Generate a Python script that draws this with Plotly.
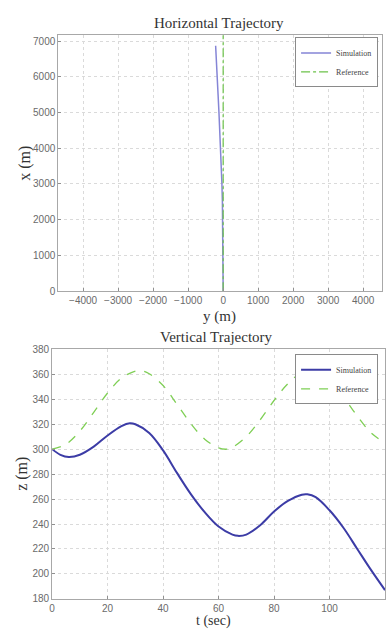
import plotly.graph_objects as go

# ---- Horizontal trajectory data ----
h_sim_x = [0, 500, 1000, 1500, 2000, 2500, 3000, 3500, 4000, 4500, 5000, 5500, 6000, 6500, 6870]
h_sim_y = [0, -1, -3, -6, -12, -22, -35, -52, -75, -96, -120, -145, -170, -195, -215]
h_ref_x = [0, 7200]
h_ref_y = [0, 0]

# ---- Vertical trajectory data ----
t_ref = [0, 5, 10, 15, 20, 25, 30, 32, 35, 40, 45, 50, 55, 60, 63, 65, 70, 75, 80, 85, 90, 93, 95, 100, 105, 110, 115, 120]
z_ref = [300, 304, 314.5, 329.5, 345, 357, 362.5, 363, 360.5, 351, 336, 320.5, 308, 301, 300, 301.5, 310, 323.5, 339, 352.5, 361.5, 363, 362.5, 355, 342, 326.5, 313, 305]
t_sim = [0, 3, 6, 10, 15, 20, 25, 28, 30, 35, 40, 45, 50, 55, 60, 65, 67, 70, 75, 80, 85, 90, 92, 95, 100, 105, 110, 115, 120]
z_sim = [300, 295.5, 293.7, 295.5, 302, 311, 318.5, 320.8, 320, 313, 299, 281, 264, 249.5, 238, 231.5, 230.5, 231.5, 239, 250, 258.5, 263.5, 263.8, 261.5, 251, 237, 220, 203, 187]

h_xticks = [-4000, -3000, -2000, -1000, 0, 1000, 2000, 3000, 4000]
h_yticks = [0, 1000, 2000, 3000, 4000, 5000, 6000, 7000]
v_xticks = [0, 20, 40, 60, 80, 100, 120]
v_yticks = [180, 200, 220, 240, 260, 280, 300, 320, 340, 360, 380]

W, H = 387, 634
fig = go.Figure()

fig.add_trace(go.Scatter(x=h_sim_y, y=h_sim_x, mode="lines", name="Simulation",
                         line=dict(color="#8585d6", width=1.5), xaxis="x", yaxis="y", legend="legend"))
fig.add_trace(go.Scatter(x=h_ref_y, y=h_ref_x, mode="lines", name="Reference",
                         line=dict(color="#6cc24a", width=1.2, dash="dashdot"), xaxis="x", yaxis="y", legend="legend"))
fig.add_trace(go.Scatter(x=t_sim, y=z_sim, mode="lines", name="Simulation", line_shape="spline",
                         line=dict(color="#3c3ca6", width=2), xaxis="x2", yaxis="y2", legend="legend2"))
fig.add_trace(go.Scatter(x=t_ref, y=z_ref, mode="lines", name="Reference", line_shape="spline",
                         line=dict(color="#7fcf55", width=1.3, dash="dash"), xaxis="x2", yaxis="y2", legend="legend2"))

def px_x(v):
    return v / W

def px_y(v):
    return 1 - v / H

axis_common = dict(showline=True, linecolor="#a8a8a8", linewidth=1, mirror=True,
                   ticks="inside", ticklen=3, tickcolor="#909090",
                   showgrid=True, gridcolor="#dadada", griddash="dot", gridwidth=1,
                   zeroline=False, tickfont=dict(family="Liberation Sans, Arial", size=10, color="#6a6a6a"))

legend_common = dict(xanchor="right", yanchor="top",
                     bgcolor="white", bordercolor="#8a8a8a", borderwidth=1,
                     font=dict(family="Liberation Serif, Times New Roman", size=8, color="#444"),
                     tracegroupgap=0, itemwidth=30)

fig.update_layout(
    width=W, height=H,
    margin=dict(l=0, r=0, t=0, b=0),
    paper_bgcolor="white", plot_bgcolor="white",
    xaxis=dict(domain=[px_x(55.7), px_x(381.7)], range=[-4710, 4530], tickvals=h_xticks,
               anchor="y", **axis_common),
    yaxis=dict(domain=[px_y(290.7), px_y(29.7)], range=[0, 7165], tickvals=h_yticks,
               anchor="x", **axis_common),
    xaxis2=dict(domain=[px_x(49.5), px_x(385)], range=[0, 120], tickvals=v_xticks,
                anchor="y2", **axis_common),
    yaxis2=dict(domain=[px_y(604.3), px_y(350)], range=[180, 380], tickvals=v_yticks,
                anchor="x2", **axis_common),
    legend=dict(x=px_x(378), y=px_y(32), **legend_common),
    legend2=dict(x=px_x(378), y=px_y(355), **legend_common),
    showlegend=True,
)

serif = "Liberation Serif, Times New Roman, serif"
annos = [
    dict(text="Horizontal Trajectory", x=px_x(218), y=px_y(17), size=15),
    dict(text="y (m)", x=px_x(218), y=px_y(316), size=15),
    dict(text="Vertical Trajectory", x=px_x(215), y=px_y(337), size=15),
    dict(text="t (sec)", x=px_x(212), y=px_y(627), size=14),
]
for a in annos:
    fig.add_annotation(text=a["text"], x=a["x"], y=a["y"], xref="paper", yref="paper",
                       xanchor="center", yanchor="middle", showarrow=False,
                       font=dict(family=serif, size=a["size"], color="#333"))
fig.add_annotation(text="x (m)", x=px_x(22), y=px_y(160), xref="paper", yref="paper",
                   xanchor="center", yanchor="middle", showarrow=False, textangle=-90,
                   font=dict(family=serif, size=16, color="#333"))
fig.add_annotation(text="z (m)", x=px_x(19), y=px_y(477), xref="paper", yref="paper",
                   xanchor="center", yanchor="middle", showarrow=False, textangle=-90,
                   font=dict(family=serif, size=16, color="#333"))

fig.write_html("out.html", config={"displayModeBar": False},
               post_script="document.body.style.margin='0';document.body.style.overflow='hidden';")
